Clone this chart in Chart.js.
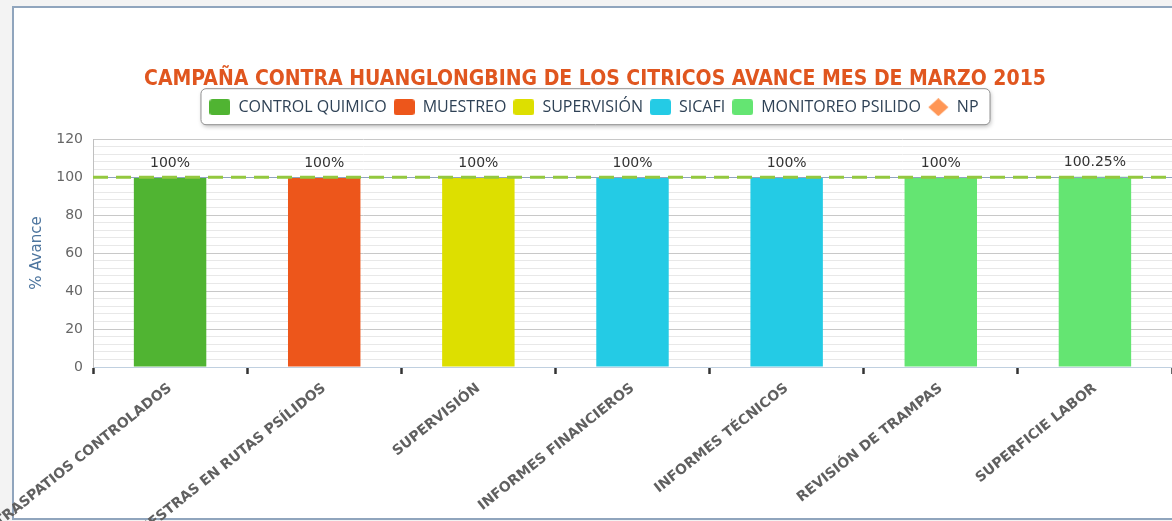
<!DOCTYPE html>
<html><head><meta charset="utf-8">
<script src="https://cdn.jsdelivr.net/npm/chart.js@4.4.1/dist/chart.umd.min.js"></script>
<style>
html,body{margin:0;padding:0;background:#f3f3f3;width:1172px;height:521px;overflow:hidden;}
#frame{position:absolute;left:12px;top:6px;width:1300px;height:510px;border:2px solid #90a5bd;background:#fff;}
#wrap{position:absolute;left:0;top:0;width:1172px;height:521px;}
</style></head><body>
<div id="frame"></div>
<div id="wrap"><canvas id="c" width="1172" height="521"></canvas></div>
<script>
// ---- data ----
const categories = ['TRASPATIOS CONTROLADOS','MUESTRAS EN RUTAS PSÍLIDOS','SUPERVISIÓN','INFORMES FINANCIEROS','INFORMES TÉCNICOS','REVISIÓN DE TRAMPAS','SUPERFICIE LABOR'];
const seriesNames = ['CONTROL QUIMICO','MUESTREO','SUPERVISIÓN','SICAFI','MONITOREO PSILIDO','NP'];
const controlQuimico   = [100, null, null, null, null, null, null];
const muestreo         = [null, 100, null, null, null, null, null];
const supervision      = [null, null, 100, null, null, null, null];
const sicafi           = [null, null, null, 100, 100, null, null];
const monitoreoPsilido = [null, null, null, null, null, 100, 100.25];
const npTarget = 100;
const yMin = 0, yMax = 120, yMajorStep = 20, yMinorStep = 4;

const colors = ['#50B432','#ED561B','#DDDF00','#24CBE5','#64E572','#FF9655'];

function swatch(color){
  const c=document.createElement('canvas'); c.width=21; c.height=16;
  const x=c.getContext('2d'); x.fillStyle=color; x.beginPath(); x.roundRect(0,0,21,16,3); x.fill(); return c;
}
function diamond(color){
  const c=document.createElement('canvas'); c.width=21; c.height=18;
  const x=c.getContext('2d'); x.fillStyle=color; x.beginPath();
  x.moveTo(10.5,0); x.lineTo(20.5,9); x.lineTo(10.5,18); x.lineTo(0.5,9); x.closePath(); x.fill(); return c;
}
const legendIcons = [swatch(colors[0]),swatch(colors[1]),swatch(colors[2]),swatch(colors[3]),swatch(colors[4]),diamond(colors[5])];

const seriesData = [controlQuimico, muestreo, supervision, sicafi, monitoreoPsilido];
const datasets = seriesData.map((d,i)=>({
  type:'bar', label: seriesNames[i], data: d, backgroundColor: colors[i], borderWidth:0,
  grouped:false, barPercentage:0.47, categoryPercentage:1, skipNull:true
}));
datasets.push({type:'line', label: seriesNames[5], data: [], backgroundColor: colors[5], borderColor: colors[5], showLine:false});

const legendBoxPlugin = {
  id:'legendBox',
  beforeInit(chart){
    const orig = chart.legend.fit;
    chart.legend.fit = function(){ orig.bind(chart.legend)(); this.height += 14; };
  },
  afterLayout(chart){
    chart.legend.left += 8; chart.legend.right += 8;
    if (chart.titleBlock){ chart.titleBlock.left += 9; chart.titleBlock.right += 9; }
  },
  beforeDraw(chart){
    const hb = chart.legend.legendHitBoxes; if(!hb || !hb.length) return;
    let l=Infinity,r=-Infinity,t=Infinity,b=-Infinity;
    hb.forEach(h=>{l=Math.min(l,h.left);r=Math.max(r,h.left+h.width);t=Math.min(t,h.top);b=Math.max(b,h.top+h.height);});
    const ctx=chart.ctx; ctx.save();
    const x=l-9, y=t-11, w=(r+11)-x, h=(b+9)-y;
    ctx.shadowColor='rgba(0,0,0,0.25)'; ctx.shadowBlur=4; ctx.shadowOffsetX=1; ctx.shadowOffsetY=2;
    ctx.fillStyle='#fff'; ctx.beginPath(); ctx.roundRect(x+0.5,y+0.5,w,h,5); ctx.fill();
    ctx.shadowColor='transparent';
    ctx.strokeStyle='#909090'; ctx.lineWidth=1; ctx.stroke();
    ctx.restore();
  }
};

const targetLinePlugin = {
  id:'targetLine',
  afterDatasetsDraw(chart){
    const ctx=chart.ctx, a=chart.chartArea, y=chart.scales.y.getPixelForValue(npTarget);
    ctx.save();
    ctx.strokeStyle='#8fa3bf'; ctx.lineWidth=1; ctx.beginPath(); ctx.moveTo(a.left,Math.round(y)+0.5); ctx.lineTo(a.right,Math.round(y)+0.5); ctx.stroke();
    ctx.strokeStyle='#93C83F'; ctx.lineWidth=3; ctx.setLineDash([15,8]);
    ctx.beginPath(); ctx.moveTo(a.left,y); ctx.lineTo(a.right,y); ctx.stroke();
    ctx.restore();
  }
};

const dataLabelPlugin = {
  id:'dataLabels',
  afterDatasetsDraw(chart){
    const ctx=chart.ctx; ctx.save();
    ctx.font='14px "DejaVu Sans"'; ctx.fillStyle='#333'; ctx.textAlign='center'; ctx.textBaseline='bottom';
    chart.data.datasets.forEach((ds,i)=>{
      if(ds.type!=='bar') return;
      chart.getDatasetMeta(i).data.forEach((el,j)=>{
        const v=ds.data[j]; if(v==null) return;
        ctx.fillText(v+'%', el.x, el.y-7);
      });
    });
    ctx.restore();
  }
};

new Chart(document.getElementById('c'), {
  data:{labels:categories, datasets},
  options:{
    responsive:false, animation:false,
    layout:{padding:{top:48,left:0,right:0,bottom:0}},
    plugins:{
      tooltip:{enabled:false},
      title:{display:true, text:'CAMPAÑA CONTRA HUANGLONGBING DE LOS CITRICOS AVANCE MES DE MARZO 2015',
        color:'#E0561F', font:{family:'"DejaVu Sans Condensed","DejaVu Sans"', size:21, weight:'bold'}, padding:{top:19,bottom:0}},
      legend:{display:true, labels:{usePointStyle:true, pointStyleWidth:21, boxHeight:16, padding:7,
        color:'#2f4256', font:{family:'"Open Sans"', size:16},
        generateLabels(chart){
          const items = Chart.defaults.plugins.legend.labels.generateLabels(chart);
          items.forEach((it,i)=>{ it.pointStyle = legendIcons[i]; it.lineWidth=0; it.strokeStyle='transparent'; });
          return items;
        }}}
    },
    scales:{
      x:{
        afterFit(s){ s.height = 154; s.paddingLeft = 0; s.paddingRight = 0; },
        border:{color:'#C0D0E0', width:1},
        grid:{offset:true, drawOnChartArea:false, drawTicks:true, tickLength:7, tickWidth:2.5, tickColor:'#333'},
        ticks:{autoSkip:false, minRotation:38.5, maxRotation:38.5, padding:6, color:'#606060',
          font:{family:'"DejaVu Sans"', size:14, weight:'bold'}}
      },
      y:{
        min:yMin, max:yMax,
        afterFit(s){ s.width = 93; },
        border:{color:'#C0C0C0', width:1},
        title:{display:true, text:'% Avance', color:'#4d759e', font:{family:'"DejaVu Sans"', size:15}, padding:{top:28,bottom:0}},
        grid:{drawTicks:false, color(c){ return (c.tick && c.tick.value % yMajorStep === 0) ? '#C8C8C8' : '#E8E8E8'; }},
        ticks:{stepSize:yMinorStep, autoSkip:false, padding:10, color:'#666', font:{family:'"DejaVu Sans"', size:14},
          callback(v){ return v % yMajorStep === 0 ? v : ''; }}
      }
    }
  },
  plugins:[legendBoxPlugin, targetLinePlugin, dataLabelPlugin]
});
</script>
</body></html>
